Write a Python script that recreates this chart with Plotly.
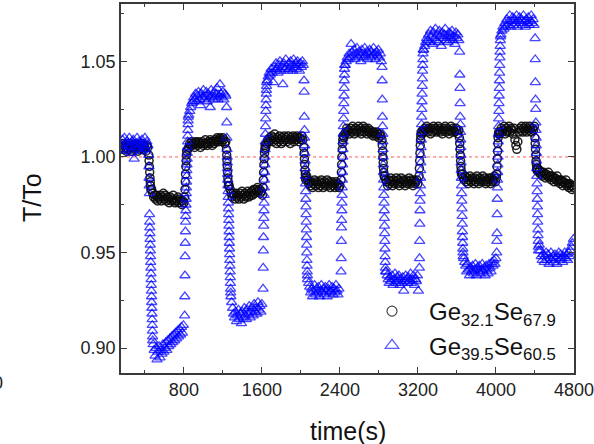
import plotly.graph_objects as go

# ------------------------------------------------------------------
# Data: T/To versus time(s) for two glasses.
# Each series is stored as segments of samples: (start time, step, values).
# ------------------------------------------------------------------

# ---------- Ge39.5Se60.5 (triangles) ----------
tri_high_1 = [1.006, 1.009, 1.004, 1.010, 1.007, 1.003, 1.008, 1.005, 1.010, 1.006,
              1.002, 1.008, 1.009, 0.999, 1.005, 1.007, 1.010, 1.004, 1.008, 1.006,
              1.003, 1.009, 1.007, 1.005, 1.010, 1.004, 1.008, 1.006]
tri_drop_1 = [1.001, 0.995, 0.989, 0.985, 0.981, 0.970, 0.966, 0.963, 0.960, 0.957,
              0.954, 0.951, 0.948, 0.945, 0.942, 0.939, 0.936, 0.933, 0.930, 0.927,
              0.924, 0.921, 0.918, 0.915, 0.912, 0.909, 0.906, 0.904]
tri_low_1 = [0.902, 0.899, 0.896, 0.900, 0.894, 0.898, 0.901, 0.895, 0.899, 0.897,
             0.902, 0.898, 0.900, 0.903, 0.899, 0.904, 0.901, 0.905, 0.902, 0.906,
             0.903, 0.907, 0.904, 0.908, 0.905, 0.909, 0.906, 0.910, 0.907, 0.911,
             0.908, 0.912]
tri_rise_1 = [0.917, 0.927, 0.938, 0.948, 0.955, 0.961, 0.966, 0.969, 0.972, 0.975,
              0.978, 0.981, 0.984, 0.987, 0.990, 0.993, 0.996, 0.999, 1.002, 1.005,
              1.008, 1.011, 1.014, 1.017, 1.019, 1.021]
tri_high_2 = [1.022, 1.024, 1.026, 1.028, 1.029, 1.031, 1.030, 1.033, 1.029, 1.032,
              1.034, 1.030, 1.027, 1.033, 1.031, 1.035, 1.030, 1.032, 1.034, 1.029,
              1.033, 1.031, 1.026, 1.035, 1.032, 1.030, 1.034, 1.031, 1.033, 1.036,
              1.030, 1.032, 1.038, 1.033, 1.031, 1.034, 1.030, 1.033, 1.032]
tri_drop_2 = [1.026, 1.018, 1.010, 1.004, 1.000, 0.997, 0.994, 0.991, 0.988, 0.985,
              0.982, 0.979, 0.976, 0.973, 0.970, 0.967, 0.964, 0.961, 0.958, 0.955,
              0.952, 0.949, 0.946, 0.943, 0.940, 0.937, 0.934, 0.931, 0.929, 0.927]
tri_low_2 = [0.924, 0.921, 0.918, 0.916, 0.919, 0.914, 0.917, 0.920, 0.915, 0.918,
             0.913, 0.919, 0.916, 0.921, 0.917, 0.915, 0.920, 0.918, 0.922, 0.916,
             0.919, 0.921, 0.917, 0.923, 0.919, 0.921, 0.918, 0.924, 0.920, 0.922,
             0.919, 0.923]
tri_rise_2 = [0.931, 0.942, 0.951, 0.958, 0.964, 0.968, 0.972, 0.976, 0.980, 0.984,
              0.988, 0.992, 0.996, 1.000, 1.004, 1.008, 1.012, 1.016, 1.020, 1.024,
              1.027, 1.030, 1.033, 1.035, 1.037, 1.039]
tri_high_3 = [1.040, 1.042, 1.044, 1.043, 1.046, 1.044, 1.039, 1.047, 1.045, 1.049,
              1.046, 1.044, 1.048, 1.050, 1.045, 1.047, 1.038, 1.049, 1.046, 1.051,
              1.047, 1.045, 1.049, 1.046, 1.050, 1.048, 1.045, 1.051, 1.047, 1.049,
              1.046, 1.050, 1.048, 1.045, 1.049, 1.047, 1.050, 1.048]
tri_drop_3 = [1.040, 1.034, 1.021, 1.014, 1.010, 1.006, 1.002, 0.998, 0.994, 0.990,
              0.986, 0.982, 0.978, 0.974, 0.970, 0.966, 0.962, 0.958, 0.954, 0.950,
              0.946, 0.943, 0.940, 0.938, 0.936]
tri_low_3 = [0.934, 0.932, 0.929, 0.931, 0.927, 0.930, 0.933, 0.928, 0.931, 0.929,
             0.932, 0.927, 0.930, 0.933, 0.929, 0.931, 0.928, 0.932, 0.930, 0.927,
             0.931, 0.933, 0.929, 0.930, 0.932, 0.928, 0.931, 0.929, 0.933, 0.930,
             0.928, 0.931]
tri_rise_3 = [0.940, 0.947, 0.956, 0.963, 0.967, 0.972, 0.976, 0.980, 0.984, 0.988,
              0.992, 0.996, 1.000, 1.004, 1.008, 1.012, 1.016, 1.020, 1.024, 1.028,
              1.032, 1.036, 1.040, 1.043, 1.046, 1.048]
tri_high_4 = [1.048, 1.050, 1.052, 1.051, 1.054, 1.052, 1.059, 1.055, 1.053, 1.056,
              1.051, 1.054, 1.057, 1.052, 1.055, 1.053, 1.050, 1.056, 1.054, 1.052,
              1.057, 1.053, 1.055, 1.051, 1.054, 1.056, 1.052, 1.055, 1.053, 1.057,
              1.054, 1.051, 1.055, 1.053, 1.056, 1.052, 1.054, 1.050]
tri_drop_4 = [1.047, 1.040, 1.030, 1.021, 1.016, 1.012, 1.008, 1.004, 1.000, 0.996,
              0.992, 0.988, 0.984, 0.980, 0.976, 0.972, 0.968, 0.964, 0.960, 0.956,
              0.952, 0.948, 0.945, 0.942, 0.940]
tri_low_4 = [0.940, 0.938, 0.936, 0.934, 0.937, 0.935, 0.938, 0.933, 0.936, 0.939,
             0.934, 0.937, 0.935, 0.938, 0.933, 0.936, 0.934, 0.937, 0.930, 0.935,
             0.938, 0.936, 0.934, 0.937, 0.935, 0.939, 0.934, 0.936, 0.938, 0.933,
             0.936, 0.935, 0.938, 0.930]
tri_rise_4 = [0.942, 0.947, 0.956, 0.965, 0.972, 0.977, 0.981, 0.985, 0.989, 0.993,
              0.997, 1.001, 1.005, 1.009, 1.013, 1.017, 1.021, 1.025, 1.029, 1.033,
              1.037, 1.041, 1.045, 1.048, 1.051, 1.054, 1.056]
tri_high_5 = [1.056, 1.058, 1.060, 1.062, 1.061, 1.064, 1.060, 1.066, 1.063, 1.059,
              1.065, 1.062, 1.067, 1.061, 1.064, 1.060, 1.066, 1.063, 1.058, 1.065,
              1.062, 1.064, 1.067, 1.061, 1.063, 1.060, 1.065, 1.062, 1.064, 1.066,
              1.061, 1.063, 1.059, 1.065, 1.062, 1.064, 1.061]
tri_drop_5 = [1.055, 1.043, 1.036, 1.028, 1.021, 1.017, 1.013, 1.009, 1.005, 1.001,
              0.997, 0.993, 0.989, 0.985, 0.981, 0.977, 0.973, 0.969, 0.965, 0.961,
              0.958, 0.955, 0.952, 0.950, 0.948]
tri_low_5 = [0.947, 0.945, 0.943, 0.940, 0.944, 0.941, 0.938, 0.942, 0.940, 0.943,
             0.939, 0.941, 0.944, 0.938, 0.942, 0.940, 0.943, 0.939, 0.941, 0.944,
             0.940, 0.942, 0.938, 0.943, 0.941, 0.939, 0.944, 0.942, 0.940, 0.945,
             0.943, 0.946, 0.944, 0.947]
tri_rise_5 = [0.950, 0.956, 0.960, 0.970, 0.978, 0.984, 0.988, 0.992, 0.996, 1.000,
              1.004, 1.008, 1.012, 1.016, 1.020, 1.024, 1.028, 1.032, 1.036, 1.040,
              1.044, 1.048, 1.052, 1.055, 1.058, 1.061, 1.063]
tri_high_6 = [1.064, 1.066, 1.068, 1.067, 1.070, 1.068, 1.072, 1.069, 1.071, 1.074,
              1.068, 1.071, 1.073, 1.069, 1.072, 1.070, 1.074, 1.068, 1.071, 1.073,
              1.070, 1.072, 1.069, 1.074, 1.071, 1.068, 1.072, 1.070, 1.073, 1.069,
              1.071, 1.074, 1.070, 1.072, 1.069]
tri_drop_6 = [1.062, 1.051, 1.039, 1.030, 1.025, 1.018, 1.014, 1.010, 1.006, 1.002,
              0.998, 0.994, 0.990, 0.986, 0.982, 0.978, 0.974, 0.970, 0.966, 0.962,
              0.959, 0.956, 0.953, 0.951]
tri_low_6 = [0.954, 0.951, 0.948, 0.946, 0.949, 0.945, 0.948, 0.950, 0.946, 0.949,
             0.944, 0.947, 0.950, 0.946, 0.948, 0.945, 0.949, 0.947, 0.944, 0.948,
             0.950, 0.946, 0.949, 0.947, 0.945, 0.948, 0.950, 0.947, 0.949, 0.946,
             0.950, 0.948, 0.951, 0.953, 0.955, 0.957]

# ---------- Ge32.1Se67.9 (circles) ----------
cir_high_1 = [1.005, 1.007, 1.004, 1.006, 1.005, 1.003, 1.006, 1.004, 1.007, 1.005,
              1.003, 1.006, 1.005, 1.004, 1.006, 1.007, 1.005, 1.003, 1.006, 1.004,
              1.005, 1.007, 1.004, 1.006, 1.005, 1.003, 1.006, 1.005]
cir_drop_1 = [1.001, 0.998, 0.995, 0.992, 0.989, 0.987, 0.985, 0.983]
cir_low_1 = [0.983, 0.981, 0.979, 0.980, 0.978, 0.980, 0.977, 0.979, 0.978, 0.980,
             0.977, 0.979, 0.981, 0.978, 0.980, 0.977, 0.979, 0.978, 0.976, 0.979,
             0.977, 0.978, 0.980, 0.977, 0.976, 0.978, 0.977, 0.979, 0.976, 0.978,
             0.977, 0.975, 0.977, 0.976]
cir_rise_1 = [0.979, 0.983, 0.987, 0.991, 0.995, 0.998, 1.001, 1.003]
cir_high_2 = [1.004, 1.005, 1.007, 1.006, 1.008, 1.006, 1.007, 1.005, 1.008, 1.007,
              1.006, 1.008, 1.007, 1.005, 1.007, 1.008, 1.006, 1.007, 1.009, 1.007,
              1.006, 1.008, 1.007, 1.009, 1.008, 1.006, 1.008, 1.007, 1.009, 1.008,
              1.010, 1.009, 1.008, 1.010, 1.009, 1.008, 1.010, 1.009, 1.007, 1.008]
cir_drop_2 = [1.004, 1.001, 0.998, 0.995, 0.992, 0.989, 0.987, 0.985]
cir_low_2 = [0.985, 0.983, 0.981, 0.979, 0.981, 0.980, 0.978, 0.981, 0.979, 0.980,
             0.978, 0.981, 0.979, 0.982, 0.980, 0.978, 0.981, 0.979, 0.980, 0.982,
             0.979, 0.981, 0.980, 0.982, 0.980, 0.983, 0.981, 0.983, 0.982, 0.984,
             0.982, 0.983, 0.981, 0.982, 0.980]
cir_rise_2 = [0.984, 0.988, 0.992, 0.996, 0.999, 1.002, 1.004, 1.006]
cir_high_3 = [1.005, 1.007, 1.009, 1.008, 1.010, 1.009, 1.011, 1.008, 1.010, 1.012,
              1.009, 1.007, 1.010, 1.008, 1.011, 1.009, 1.007, 1.010, 1.008, 1.011,
              1.009, 1.010, 1.008, 1.011, 1.009, 1.007, 1.010, 1.009, 1.011, 1.008,
              1.010, 1.009, 1.011, 1.010, 1.008, 1.010, 1.009, 1.011, 1.009]
cir_drop_3 = [1.005, 1.002, 0.999, 0.996, 0.993, 0.991, 0.989, 0.988]
cir_low_3 = [0.990, 0.988, 0.986, 0.987, 0.985, 0.987, 0.984, 0.986, 0.988, 0.985,
             0.987, 0.986, 0.984, 0.987, 0.985, 0.988, 0.986, 0.984, 0.987, 0.985,
             0.986, 0.988, 0.985, 0.987, 0.984, 0.986, 0.987, 0.985, 0.986, 0.984,
             0.987, 0.985, 0.986, 0.984, 0.985]
cir_rise_3 = [0.988, 0.992, 0.996, 1.000, 1.004, 1.007, 1.009, 1.011]
cir_high_4 = [1.010, 1.012, 1.013, 1.015, 1.013, 1.014, 1.012, 1.015, 1.013, 1.016,
              1.014, 1.012, 1.015, 1.013, 1.014, 1.016, 1.013, 1.015, 1.012, 1.014,
              1.016, 1.013, 1.015, 1.014, 1.012, 1.015, 1.013, 1.014, 1.012, 1.013,
              1.011, 1.013, 1.012, 1.011, 1.013, 1.012, 1.010, 1.012, 1.011]
cir_drop_4 = [1.009, 1.006, 1.003, 1.000, 0.997, 0.994, 0.992, 0.990]
cir_low_4 = [0.990, 0.988, 0.987, 0.985, 0.988, 0.986, 0.989, 0.987, 0.985, 0.988,
             0.986, 0.987, 0.989, 0.986, 0.988, 0.985, 0.987, 0.989, 0.986, 0.988,
             0.987, 0.985, 0.988, 0.986, 0.987, 0.989, 0.986, 0.988, 0.987, 0.985,
             0.988, 0.986, 0.987, 0.988, 0.986]
cir_rise_4 = [0.990, 0.994, 0.998, 1.002, 1.006, 1.009, 1.011, 1.013]
cir_high_5 = [1.012, 1.014, 1.013, 1.015, 1.014, 1.016, 1.013, 1.015, 1.014, 1.012,
              1.015, 1.013, 1.016, 1.014, 1.015, 1.013, 1.014, 1.016, 1.015, 1.013,
              1.014, 1.012, 1.015, 1.014, 1.016, 1.013, 1.015, 1.014, 1.012, 1.014,
              1.016, 1.013, 1.015, 1.014, 1.013, 1.015, 1.014, 1.012, 1.014]
cir_drop_5 = [1.010, 1.007, 1.004, 1.001, 0.998, 0.995, 0.993, 0.991]
cir_low_5 = [0.991, 0.989, 0.988, 0.990, 0.987, 0.989, 0.986, 0.988, 0.990, 0.987,
             0.989, 0.988, 0.986, 0.989, 0.987, 0.990, 0.988, 0.986, 0.989, 0.987,
             0.988, 0.990, 0.987, 0.989, 0.986, 0.988, 0.987, 0.989, 0.988, 0.986,
             0.989, 0.987, 0.988, 0.990, 0.987, 0.989]
cir_rise_5 = [0.991, 0.995, 0.999, 1.003, 1.007, 1.010, 1.012, 1.013]
cir_high_6 = [1.012, 1.013, 1.015, 1.013, 1.014, 1.016, 1.012, 1.015, 1.013, 1.014,
              1.016, 1.013, 1.015, 1.014, 1.012, 1.015, 1.009, 1.006, 1.004, 1.008,
              1.013, 1.015, 1.014, 1.016, 1.013, 1.015, 1.014, 1.016, 1.013, 1.015,
              1.014, 1.016, 1.015, 1.013, 1.015, 1.014, 1.016]
cir_drop_6 = [1.010, 1.007, 1.004, 1.001, 0.998, 0.996, 0.994, 0.993]
cir_low_6 = [0.994, 0.992, 0.993, 0.991, 0.992, 0.990, 0.992, 0.991, 0.989, 0.991,
             0.990, 0.992, 0.989, 0.990, 0.988, 0.990, 0.989, 0.987, 0.989, 0.988,
             0.990, 0.987, 0.988, 0.986, 0.988, 0.987, 0.985, 0.987, 0.986, 0.988,
             0.985, 0.986, 0.984, 0.986, 0.985, 0.983, 0.985, 0.984]

# sample timing of each segment: (start time s, step s, values)
TRI_SEGMENTS = [
    (160, 10, tri_high_1), (440, 1.5, tri_drop_1), (485, 10, tri_low_1),
    (808, 1.5, tri_rise_1), (850, 10, tri_high_2), (1238, 1.5, tri_drop_2),
    (1290, 10, tri_low_2), (1612, 1.5, tri_rise_2), (1655, 10, tri_high_3),
    (2032, 1.5, tri_drop_3), (2080, 10, tri_low_3), (2412, 1.5, tri_rise_3),
    (2455, 10, tri_high_4), (2832, 1.5, tri_drop_4), (2875, 10, tri_low_4),
    (3215, 1.5, tri_rise_4), (3260, 10, tri_high_5), (3628, 1.5, tri_drop_5),
    (3670, 10, tri_low_5), (4008, 1.5, tri_rise_5), (4052, 10, tri_high_6),
    (4402, 1.5, tri_drop_6), (4445, 10, tri_low_6),
]
CIR_SEGMENTS = [
    (160, 10, cir_high_1), (440, 3, cir_drop_1), (470, 10, cir_low_1),
    (808, 3, cir_rise_1), (840, 10, cir_high_2), (1236, 3, cir_drop_2),
    (1265, 10, cir_low_2), (1612, 3, cir_rise_2), (1640, 10, cir_high_3),
    (2030, 3, cir_drop_3), (2060, 10, cir_low_3), (2412, 3, cir_rise_3),
    (2440, 10, cir_high_4), (2832, 3, cir_drop_4), (2860, 10, cir_low_4),
    (3212, 3, cir_rise_4), (3240, 10, cir_high_5), (3626, 3, cir_drop_5),
    (3655, 10, cir_low_5), (4008, 3, cir_rise_5), (4035, 10, cir_high_6),
    (4400, 3, cir_drop_6), (4428, 10, cir_low_6),
]

x_ticks = [800, 1600, 2400, 3200, 4000, 4800]
y_ticks = [0.90, 0.95, 1.00, 1.05]
reference_level = 1.0
series_names = ["Ge<sub>32.1</sub>Se<sub>67.9</sub>", "Ge<sub>39.5</sub>Se<sub>60.5</sub>"]


def expand(segments):
    xs, ys = [], []
    for t0, dt, vals in segments:
        for i, v in enumerate(vals):
            xs.append(t0 + i * dt)
            ys.append(v)
    return xs, ys


cx, cy = expand(CIR_SEGMENTS)
tx, ty = expand(TRI_SEGMENTS)

FONT = "Liberation Sans, Arial, sans-serif"
fig = go.Figure()

fig.add_trace(go.Scatter(
    x=cx, y=cy, mode="markers", showlegend=False, hoverinfo="skip",
    marker=dict(symbol="circle-open", size=8,
                color="rgba(10,10,10,0.9)", line=dict(width=1.5, color="rgba(10,10,10,0.9)")),
))
fig.add_trace(go.Scatter(
    x=tx, y=ty, mode="markers", showlegend=False, hoverinfo="skip",
    marker=dict(symbol="triangle-up-open", size=9,
                color="rgba(0,0,255,0.72)", line=dict(width=1.3, color="rgba(0,0,255,0.72)")),
))
# legend entries
fig.add_trace(go.Scatter(
    x=[None], y=[None], mode="markers", name=series_names[0],
    marker=dict(symbol="circle-open", size=10, color="rgb(70,70,70)", line=dict(width=1.2)),
))
fig.add_trace(go.Scatter(
    x=[None], y=[None], mode="markers", name=series_names[1],
    marker=dict(symbol="triangle-up-open", size=12, color="rgb(90,90,255)", line=dict(width=1.2)),
))

fig.add_shape(type="line", xref="paper", x0=0, x1=1, yref="y",
              y0=reference_level, y1=reference_level, layer="below",
              line=dict(color="rgba(255,60,60,0.85)", width=1, dash="dot"))

axis_common = dict(
    showline=True, linecolor="#3a3a3a", linewidth=1.6, mirror="ticks",
    ticks="inside", ticklen=6, tickwidth=1.4, tickcolor="#3a3a3a",
    showgrid=False, zeroline=False, automargin=False,
    tickfont=dict(family=FONT, size=18, color="#222"),
)
fig.update_xaxes(range=[155, 4801], tickvals=x_ticks, tickformat="d",
                 minor=dict(ticks="inside", ticklen=3.5, tickwidth=1.2, tickcolor="#3a3a3a",
                            dtick=400, tick0=0),
                 **axis_common)
fig.update_yaxes(range=[0.887, 1.080], tickvals=y_ticks, tickformat=".2f",
                 minor=dict(ticks="inside", ticklen=3.5, tickwidth=1.2, tickcolor="#3a3a3a",
                            dtick=0.025, tick0=0.9),
                 **axis_common)

fig.add_annotation(text="time(s)", xref="paper", yref="paper", x=0.5, y=-0.157,
                   showarrow=False, xanchor="center", yanchor="middle",
                   font=dict(family=FONT, size=25, color="#111"))
fig.add_annotation(text="T/To", xref="paper", yref="paper", x=-0.1965, y=0.477,
                   showarrow=False, textangle=-90, xanchor="center", yanchor="middle",
                   font=dict(family=FONT, size=25, color="#111"))
fig.add_annotation(text="0", xref="paper", yref="paper", x=-0.2715, y=-0.028,
                   showarrow=False, xanchor="center", yanchor="middle",
                   font=dict(family=FONT, size=18, color="#222"))

fig.update_layout(
    template="none",
    width=594, height=444,
    margin=dict(l=121, r=20, t=4, b=71, autoexpand=False),
    paper_bgcolor="white", plot_bgcolor="white",
    hovermode=False,
    legend=dict(x=(355 - 121) / 453, y=(373 - 289) / 369, xanchor="left", yanchor="top",
                bgcolor="rgba(0,0,0,0)", itemwidth=64, tracegroupgap=0, borderwidth=0,
                font=dict(family=FONT, size=24, color="#111")),
)

# place the figure at the page's top-left corner (no default body margin), no mode bar
fig.write_html("out.html",
               config={"displayModeBar": False, "staticPlot": False},
               post_script="document.body.style.margin='0';document.body.style.overflow='hidden';")
